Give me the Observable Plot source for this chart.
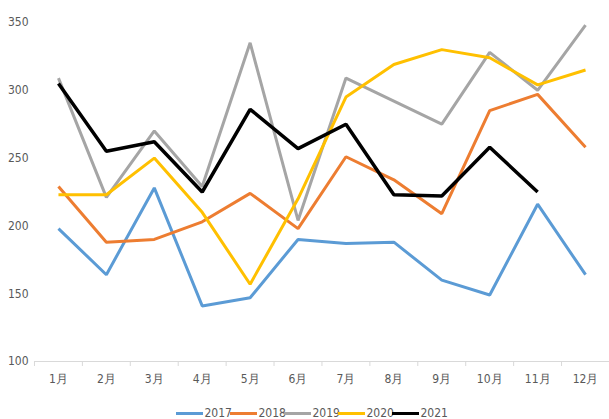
<!DOCTYPE html>
<html>
<head>
<meta charset="utf-8">
<script src="https://cdn.jsdelivr.net/npm/d3@7"></script>
<script src="https://cdn.jsdelivr.net/npm/@observablehq/plot@0.6"></script>
<style>
  html, body { margin: 0; padding: 0; background: #fff; overflow: hidden; }
  #chart { width: 609px; font-family: "Liberation Sans Narrow", "DejaVu Sans Condensed", "Liberation Sans", sans-serif; }
  .legend { display: flex; justify-content: center; align-items: center; height: 17px; box-sizing: border-box;
            padding: 5px 0 0 12px; font-size: 12px; line-height: 12px; color: #595959; }
  .legend .item { display: flex; align-items: center; }
  .legend .sw { width: 27px; height: 3px; margin: 0 2px 0 0; }
  .legend .lab { display: inline-block; width: 25px; }
</style>
</head>
<body>
<div id="chart"></div>
<script>
// Monthly values per year
const months = ["1月", "2月", "3月", "4月", "5月", "6月", "7月", "8月", "9月", "10月", "11月", "12月"];
const years = ["2017", "2018", "2019", "2020", "2021"];
const colors = ["#5B9BD5", "#ED7D31", "#A5A5A5", "#FFC000", "#000000"];
const v2017 = [198, 164, 228, 141, 147, 190, 187, 188, 160, 149, 216, 164];
const v2018 = [229, 188, 190, 203, 224, 198, 251, 234, 209, 285, 297, 258];
const v2019 = [309, 221, 270, 229, 335, 204, 309, 292, 275, 328, 300, 348];
const v2020 = [223, 223, 250, 210, 157, 220, 295, 319, 330, 324, 304, 315];
const v2021 = [305, 255, 262, 225, 286, 257, 275, 223, 222, 258, 225];
const yTicks = [100, 150, 200, 250, 300, 350];

const series = [v2017, v2018, v2019, v2020, v2021];
const rows = series.flatMap((vals, s) =>
  vals.map((v, i) => ({year: years[s], month: months[i], value: v})));

const textColor = "#595959";

const plot = Plot.plot({
  width: 609,
  height: 402,
  marginTop: 22,
  marginBottom: 41,
  marginLeft: 34,
  marginRight: 0,
  style: {fontFamily: "inherit", fontSize: "12px", color: textColor, background: "#fff"},
  x: {type: "point", domain: months, padding: 0.5, round: false, label: null},
  y: {domain: [100, 350], label: null},
  color: {domain: years, range: colors},
  marks: [
    Plot.ruleY([100], {stroke: "#d9d9d9", strokeWidth: 1}),
    // category boundary ticks below the baseline
    Plot.ruleX(months, {x: d => d, y1: 100, y2: 100, dx: -24, insetBottom: -5, stroke: "#d9d9d9"}),
    Plot.axisX({tickSize: 0, tickPadding: 13, fill: textColor}),
    Plot.axisY({ticks: yTicks, tickSize: 0, tickPadding: 6, fill: textColor}),
    Plot.line(rows, {
      x: "month", y: "value", z: "year", stroke: "year",
      strokeWidth: d => d.year === "2021" ? 3.5 : 3,
      strokeLinejoin: "miter", strokeLinecap: "butt"
    })
  ]
});

const root = document.getElementById("chart");
root.appendChild(plot);

const legend = document.createElement("div");
legend.className = "legend";
years.forEach((y, i) => {
  const item = document.createElement("span");
  item.className = "item";
  const sw = document.createElement("span");
  sw.className = "sw";
  sw.style.background = colors[i];
  const label = document.createElement("span");
  label.className = "lab";
  label.textContent = y;
  item.appendChild(sw);
  item.appendChild(label);
  legend.appendChild(item);
});
root.appendChild(legend);
</script>
</body>
</html>
